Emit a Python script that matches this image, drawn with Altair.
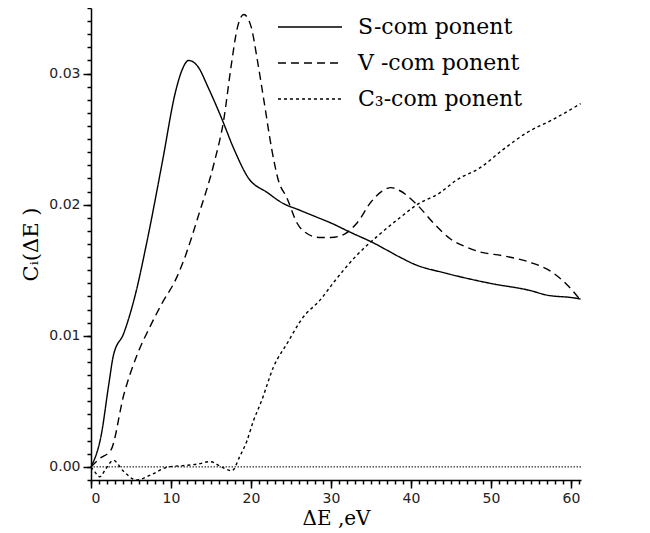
import altair as alt
import pandas as pd

# ---------------- data ----------------
series_names = ["S-com ponent", "V -com ponent", "C₃-com ponent"]

s_x = [0, 1.3, 2.2, 2.8, 4.1, 5.4, 7.1, 8.9, 10.6, 11.4, 12.2, 13.4, 14.6, 16.25, 17.9,
       19.6, 22.1, 24, 26, 28, 30, 32.4, 35.25, 38.6, 40.25, 44.5, 49.9, 54.9, 57, 60.25, 61.2]
s_y = [0, 0.0025, 0.0062, 0.0085, 0.0102, 0.0128, 0.0175, 0.0232, 0.0287, 0.0303, 0.0310,
       0.0305, 0.0290, 0.0267, 0.0242, 0.0221, 0.0209, 0.0201, 0.0196, 0.0191, 0.0186, 0.0179,
       0.0171, 0.0160, 0.0155, 0.01475, 0.0140, 0.01345, 0.0131, 0.0129, 0.0128]

v_x = [0, 1, 2.5, 4.1, 5.8, 7.3, 8.9, 10.6, 11.5, 13.5, 15.4, 16.6, 17.5, 18.3, 19.1, 20,
       20.8, 21.6, 22.6, 23.4, 24.5, 25.75, 27, 28.5, 30, 31.5, 33.25, 35, 36.3, 37.5, 38.5,
       40.75, 42.8, 44.9, 46.8, 48.6, 51.5, 54.9, 57.5, 59.5, 61.2]
v_y = [0, 0.0006, 0.0013, 0.0055, 0.0086, 0.0106, 0.0125, 0.0143, 0.0156, 0.0193, 0.0232,
       0.0265, 0.0305, 0.0335, 0.0345, 0.0336, 0.0310, 0.0280, 0.0242, 0.0219, 0.0205, 0.0186,
       0.0178, 0.0175, 0.0175, 0.0177, 0.0186, 0.0202, 0.0210, 0.0213, 0.0211, 0.0200, 0.0186,
       0.0174, 0.0168, 0.0164, 0.0161, 0.0156, 0.0149, 0.0139, 0.0127]

c_x = [0, 0.5, 1.1, 1.8, 2.8, 4, 5.7, 7.5, 9.7, 11.5, 13.2, 14.9, 16.3, 17.6, 18.6, 19.5,
       20.3, 21.3, 22.8, 24.5, 26.5, 28.6, 30.5, 33, 36, 38.6, 40.75, 43.6, 45.75, 48.6,
       51.5, 54.5, 57.75, 61.2]
c_y = [0, -0.0004, -0.00076, -0.0002, 0.0005, -0.0003, -0.0010, -0.0006, 0, 0.0001, 0.0002,
       0.0004, 0.0, -0.0003, 0.0008, 0.0020, 0.0035, 0.0050, 0.0076, 0.0094, 0.0114, 0.0127,
       0.0142, 0.0160, 0.0177, 0.0190, 0.0200, 0.0209, 0.0219, 0.0228, 0.0242, 0.0255,
       0.0265, 0.0277]

x_major = [0, 10, 20, 30, 40, 50, 60]
x_minor = list(range(0, 62))
y_major = [0.0, 0.01, 0.02, 0.03]
y_minor = [round(-0.001 + 0.001 * i, 3) for i in range(37)]
zero_line = [0.0]

# ---------------- build table ----------------
rows = []
for name, xs, ys in zip(series_names, [s_x, v_x, c_x], [s_y, v_y, c_y]):
    for i, (a, b) in enumerate(zip(xs, ys)):
        rows.append({"series": name, "x": a, "y": b, "order": i})
df = pd.DataFrame(rows)
zdf = pd.DataFrame({"y": zero_line})

xscale = alt.Scale(domain=[0, 61.25], nice=False, zero=False)
yscale = alt.Scale(domain=[-0.001, 0.035], nice=False, zero=False)

common_axis = dict(grid=False, domainColor="black", tickColor="black",
                   domainWidth=1.5, tickWidth=1.5)

x_axis_major = alt.Axis(values=x_major, format="d", tickSize=8, orient="bottom",
                        labelFont="DejaVu Sans", labelFontSize=14, labelColor="#222",
                        labelPadding=3, title="ΔE ,eV", titleFont="DejaVu Serif",
                        titleFontSize=20, titleFontWeight="normal", titleColor="black",
                        titlePadding=3, **common_axis)
y_axis_major = alt.Axis(values=y_major, format=".2f", tickSize=8, orient="left",
                        labelFont="DejaVu Sans", labelFontSize=14, labelColor="#222",
                        labelPadding=3, title="Cᵢ(ΔE )", titleFont="DejaVu Serif",
                        titleFontSize=21, titleFontWeight="normal", titleColor="black",
                        titlePadding=7, **common_axis)
x_axis_minor = alt.Axis(values=x_minor, tickSize=4, labels=False, domain=False,
                        orient="bottom", title=None, grid=False, tickColor="black",
                        tickWidth=1.5)
y_axis_minor = alt.Axis(values=y_minor, tickSize=4, labels=False, domain=False,
                        orient="left", title=None, grid=False, tickColor="black",
                        tickWidth=1.5)

lines = alt.Chart(df).mark_line(color="black", strokeWidth=1.4, interpolate="monotone").encode(
    x=alt.X("x:Q", scale=xscale, axis=x_axis_major),
    y=alt.Y("y:Q", scale=yscale, axis=y_axis_major),
    strokeDash=alt.StrokeDash(
        "series:N",
        scale=alt.Scale(domain=series_names, range=[[1, 0], [8, 5], [3, 3]]),
        legend=alt.Legend(
            title=None, orient="none", legendX=208, legendY=8,
            symbolType="M-8,0H8", symbolSize=64, symbolStrokeWidth=1.4,
            symbolStrokeColor="black", labelFont="DejaVu Serif", labelFontSize=22,
            labelColor="black", labelOffset=37, labelLimit=400, rowPadding=14, padding=0,
        ),
    ),
    order="order:Q",
)

minor = alt.Chart(df).mark_point(opacity=0).encode(
    x=alt.X("x:Q", scale=xscale, axis=x_axis_minor),
    y=alt.Y("y:Q", scale=yscale, axis=y_axis_minor),
)

zero = alt.Chart(zdf).mark_rule(color="black", strokeWidth=1, strokeDash=[1.5, 1.5]).encode(
    y=alt.Y("y:Q", scale=yscale, axis=None),
)

chart = alt.layer(zero, minor, lines).resolve_axis(
    x="independent", y="independent"
).properties(
    width=490, height=472,
    autosize=alt.AutoSizeParams(type="none"),
    padding={"left": 83, "top": 0, "right": 60, "bottom": 53},
).configure_view(stroke=None)

chart.save("out.html", embed_options={"renderer": "svg", "actions": False})
